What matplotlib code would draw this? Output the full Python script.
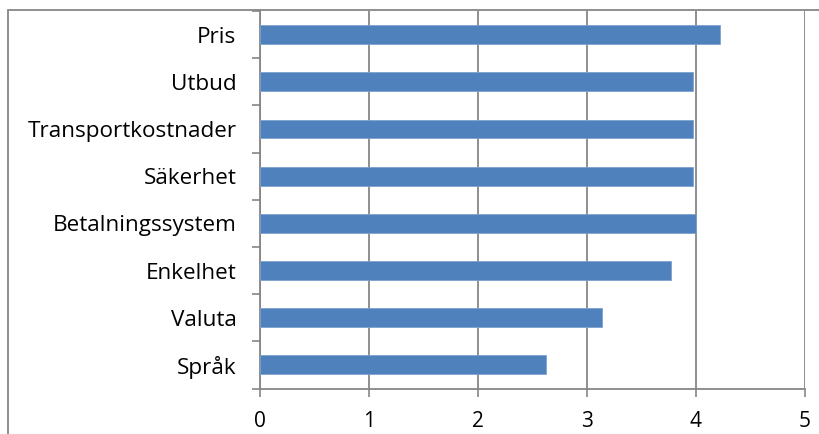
import matplotlib
matplotlib.use("Agg")
import matplotlib.pyplot as plt
from matplotlib.patches import Rectangle

categories = ["Pris", "Utbud", "Transportkostnader", "Säkerhet",
              "Betalningssystem", "Enkelhet", "Valuta", "Språk"]
values = [4.22, 3.97, 3.97, 3.97, 4.00, 3.77, 3.14, 2.62]
xticks = [0, 1, 2, 3, 4, 5]

plt.rcParams['font.family'] = ['Open Sans', 'DejaVu Sans']

W, H = 819, 434
fig = plt.figure(figsize=(W / 100, H / 100), dpi=100)
ax = fig.add_axes([260 / W, 1 - 388.5 / H, (805 - 260) / W, (388.5 - 11) / H])

n = len(categories)
ypos = list(range(n - 1, -1, -1))
ax.barh(ypos, values, height=0.4, color='#4F81BD', edgecolor='#7EA3CF',
        linewidth=0.6, zorder=3)

grid_c = '#868686'
ax.set_xlim(0, 5)
ax.set_ylim(-0.5, n - 0.5)
ax.set_xticks(xticks)
ax.set_xticklabels([str(t) for t in xticks])
for t in xticks:
    ax.axvline(t, color=grid_c, linewidth=1.3, zorder=1)

ax.set_yticks(ypos)
ax.set_yticklabels(categories)
ax.set_yticks([i - 0.5 for i in range(n + 1)], minor=True)
ax.tick_params(axis='y', which='major', length=0, pad=17, labelsize=16.2)
ax.tick_params(axis='y', which='minor', length=6, width=1.2, color=grid_c)
ax.tick_params(axis='x', length=6, width=1.2, color=grid_c, pad=10, labelsize=15)

for s in ['top', 'right']:
    ax.spines[s].set_visible(False)
for s in ['left', 'bottom']:
    ax.spines[s].set_color(grid_c)
    ax.spines[s].set_linewidth(1.3)

# chart-area border (partly cropped)
fig.patches.append(Rectangle((8 / W, -0.1), 1.2, (1 - 10 / H) + 0.1,
                             transform=fig.transFigure, fill=False,
                             edgecolor=grid_c, linewidth=1.3))

fig.savefig("out.png", dpi=100)
